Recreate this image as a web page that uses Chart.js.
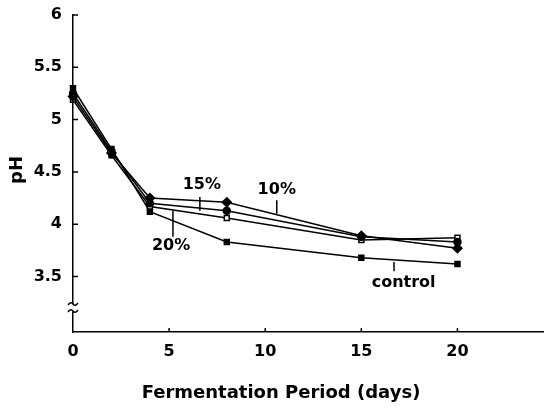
<!DOCTYPE html>
<html>
<head>
<meta charset="utf-8">
<script src="https://cdn.jsdelivr.net/npm/chart.js@4"></script>
<style>
  html, body { margin: 0; padding: 0; background: #fff; }
  #wrap { width: 549px; height: 410px; }
</style>
</head>
<body>
<div id="wrap"><canvas id="phChart"></canvas></div>
<script>
// fermentation days and pH per treatment
const days = [0, 2, 4, 8, 15, 20];
const ph10 = [5.22, 4.68, 4.25, 4.21, 3.89, 3.77];
const ph15 = [5.25, 4.70, 4.20, 4.13, 3.88, 3.83];
const ph20 = [5.19, 4.66, 4.17, 4.06, 3.85, 3.87];
const phControl = [5.30, 4.72, 4.12, 3.83, 3.68, 3.62];

const xTicks = [0, 5, 10, 15, 20];
const yTicks = [3.5, 4, 4.5, 5, 5.5, 6];

// curve labels with their pointer strokes (data coords)
const curveLabels = [
    { text: '15%', x: 6.7, y: 4.38, px: 6.6, from: 4.26, to: 4.13 },
    { text: '10%', x: 10.6, y: 4.33, px: 10.6, from: 4.23, to: 4.10 },
    { text: '20%', x: 5.1, y: 3.79, px: 5.2, from: 4.13, to: 3.88 },
    { text: 'control', x: 17.2, y: 3.44, px: 16.7, from: 3.64, to: 3.55 }
];

const FONT = '"DejaVu Sans", Verdana, sans-serif';

function series(values, style, fill, radius) {
    return {
        data: days.map((d, i) => ({ x: d, y: values[i] })),
        borderColor: '#000',
        borderWidth: 1.5,
        pointStyle: style,
        pointRadius: radius,
        pointBackgroundColor: fill,
        pointBorderColor: '#000',
        pointBorderWidth: 1.5,
        tension: 0,
        clip: false
    };
}

const extras = {
    id: 'extras',
    afterDraw(chart) {
        const ctx = chart.ctx;
        const xs = chart.scales.x;
        const ys = chart.scales.y;
        const area = chart.chartArea;
        ctx.save();
        ctx.strokeStyle = '#000';
        ctx.lineWidth = 1.5;

        // inside tick marks
        ctx.beginPath();
        yTicks.forEach(v => {
            const y = ys.getPixelForValue(v);
            ctx.moveTo(area.left, y);
            ctx.lineTo(area.left + 5, y);
        });
        xTicks.slice(1).forEach(v => {
            const x = xs.getPixelForValue(v);
            ctx.moveTo(x, area.bottom);
            ctx.lineTo(x, area.bottom - 4);
        });
        ctx.stroke();

        // axis break
        const bx = area.left;
        const b1 = area.bottom - 28;
        const b2 = area.bottom - 21;
        ctx.fillStyle = '#fff';
        ctx.fillRect(bx - 2, b1, 4, b2 - b1);
        ctx.beginPath();
        [b1, b2].forEach(by => {
            ctx.moveTo(bx - 5, by + 1);
            ctx.quadraticCurveTo(bx - 2, by - 3, bx, by);
            ctx.quadraticCurveTo(bx + 2, by + 3, bx + 5, by - 1);
        });
        ctx.stroke();

        // curve labels
        ctx.fillStyle = '#000';
        ctx.font = 'bold 16px ' + FONT;
        ctx.textAlign = 'center';
        ctx.textBaseline = 'middle';
        curveLabels.forEach(l => {
            ctx.fillText(l.text, xs.getPixelForValue(l.x), ys.getPixelForValue(l.y));
            const px = xs.getPixelForValue(l.px);
            ctx.beginPath();
            ctx.moveTo(px, ys.getPixelForValue(l.from));
            ctx.lineTo(px, ys.getPixelForValue(l.to));
            ctx.stroke();
        });

        // axis titles
        ctx.font = 'bold 18px ' + FONT;
        ctx.fillText('Fermentation Period (days)', 281, 393);
        ctx.translate(17, 170);
        ctx.rotate(-Math.PI / 2);
        ctx.fillText('pH', 0, 0);
        ctx.restore();
    }
};

new Chart(document.getElementById('phChart'), {
    type: 'line',
    data: {
        datasets: [
            series(ph10, 'rectRot', '#000', 4.5),
            series(ph15, 'circle', '#000', 3.5),
            series(ph20, 'rect', '#fff', 3.5),
            series(phControl, 'rect', '#000', 3.5)
        ]
    },
    options: {
        responsive: true,
        maintainAspectRatio: false,
        animation: false,
        layout: { padding: { top: 15, left: 0, right: 0, bottom: 0 } },
        plugins: {
            legend: { display: false },
            tooltip: { enabled: false }
        },
        scales: {
            x: {
                type: 'linear',
                min: 0,
                max: 24.45,
                afterBuildTicks: s => { s.ticks = xTicks.map(v => ({ value: v })); },
                afterFit: s => { s.height = 78; },
                grid: { display: false, drawTicks: false },
                border: { display: true, color: '#000', width: 1.5 },
                ticks: {
                    color: '#000',
                    padding: 10,
                    font: { family: FONT, size: 16, weight: 'bold' }
                }
            },
            y: {
                min: 2.97,
                max: 6,
                afterBuildTicks: s => { s.ticks = yTicks.map(v => ({ value: v })); },
                afterFit: s => { s.width = 73; s.paddingTop = 0; s.paddingBottom = 0; },
                grid: { display: false, drawTicks: false },
                border: { display: true, color: '#000', width: 1.5 },
                ticks: {
                    color: '#000',
                    padding: 11,
                    callback: v => String(v),
                    font: { family: FONT, size: 16, weight: 'bold' }
                }
            }
        }
    },
    plugins: [extras]
});
</script>
</body>
</html>
